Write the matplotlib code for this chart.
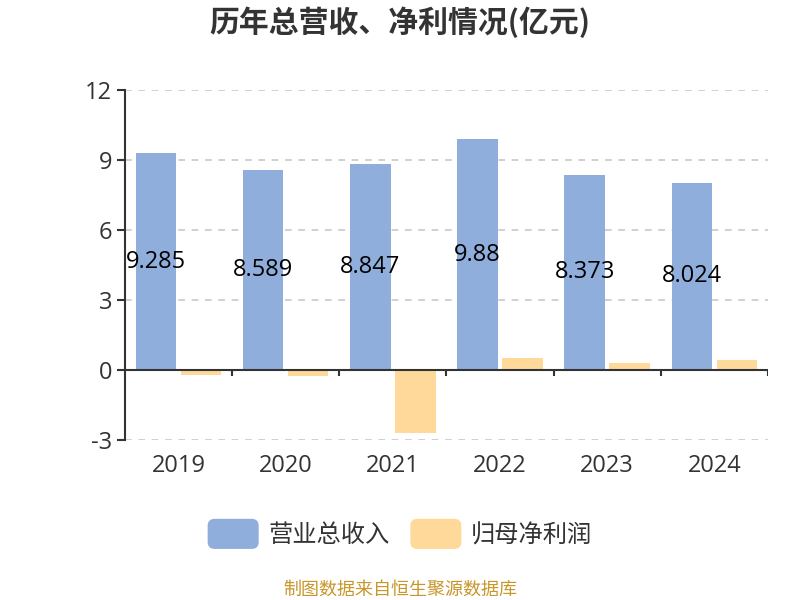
import numpy as np
import matplotlib
matplotlib.use('Agg')
import matplotlib.pyplot as plt
from matplotlib.patches import FancyBboxPatch, Patch
from matplotlib.legend_handler import HandlerPatch

plt.rcParams['font.family'] = ['Noto Sans CJK SC', 'DejaVu Sans']
num_font = ['Open Sans', 'Noto Sans CJK SC']

# Data (亿元)
years = ['2019', '2020', '2021', '2022', '2023', '2024']
revenue = [9.285, 8.589, 8.847, 9.88, 8.373, 8.024]
net_profit = [-0.21, -0.26, -2.71, 0.51, 0.29, 0.41]
revenue_labels = ['9.285', '8.589', '8.847', '9.88', '8.373', '8.024']

blue = '#8faedb'
orange = '#ffd999'
text_color = '#333333'


class RoundHandler(HandlerPatch):
    def create_artists(self, legend, orig_handle, xdescent, ydescent,
                       width, height, fontsize, trans):
        p = FancyBboxPatch((-xdescent, -ydescent - 3), width, height + 6,
                           boxstyle='round,pad=0,rounding_size=5',
                           facecolor=orig_handle.get_facecolor(),
                           edgecolor='none', transform=trans)
        return [p]


fig = plt.figure(figsize=(8, 6), dpi=100)
ax = fig.add_axes([0.156, 0.2667, 0.804, 0.5833])

x = np.arange(len(years))
w = 0.38
ax.bar(x - 0.21, revenue, w, color=blue, zorder=3)
ax.bar(x + 0.21, net_profit, w, color=orange, zorder=3)

for xi, v, lab in zip(x, revenue, revenue_labels):
    ax.text(xi - 0.21, v / 2, lab, ha='center', va='center',
            fontsize=17, color='black', zorder=4, family=num_font)

ax.set_xlim(-0.5, 5.5)
ax.set_ylim(-3, 12)
ax.set_yticks([-3, 0, 3, 6, 9, 12])
ax.set_yticklabels(['-3', '0', '3', '6', '9', '12'], family=num_font)
ax.tick_params(axis='y', length=6, width=1.5, color=text_color,
               labelsize=17, labelcolor=text_color, pad=3)
ax.set_xticks(x)
ax.set_xticklabels(years, family=num_font)
ax.tick_params(axis='x', length=0, labelsize=17, labelcolor=text_color, pad=10)

for yv in [-3, 3, 6, 9, 12]:
    ax.axhline(yv, color='#c8c8c8', linestyle=(0, (4, 4)), linewidth=1.2, zorder=1)

for s in ['top', 'right', 'bottom']:
    ax.spines[s].set_visible(False)
ax.spines['left'].set_color(text_color)
ax.spines['left'].set_linewidth(1.5)

# zero axis line with category ticks
ax.axhline(0, color=text_color, linewidth=1.5, zorder=4)
ax.vlines(np.arange(len(years)) + 0.5, -0.26, 0, color=text_color,
          linewidth=1.5, zorder=4)

fig.text(0.5, 0.963, '历年总营收、净利情况(亿元)', ha='center', va='center',
         fontsize=21.5, fontweight='bold', color=text_color)

handles = [Patch(facecolor=blue, label='营业总收入'),
           Patch(facecolor=orange, label='归母净利润')]
fig.legend(handles=handles, loc='center', bbox_to_anchor=(0.5, 0.108),
           ncol=2, frameon=False, fontsize=17.5, handlelength=2.1,
           handleheight=1.0, handletextpad=0.4, columnspacing=0.85,
           handler_map={Patch: RoundHandler()}, labelcolor=text_color)

fig.text(0.5, 0.018, '制图数据来自恒生聚源数据库', ha='center', va='center',
         fontsize=13, color='#c8962a')

fig.savefig('out.png', dpi=100)
